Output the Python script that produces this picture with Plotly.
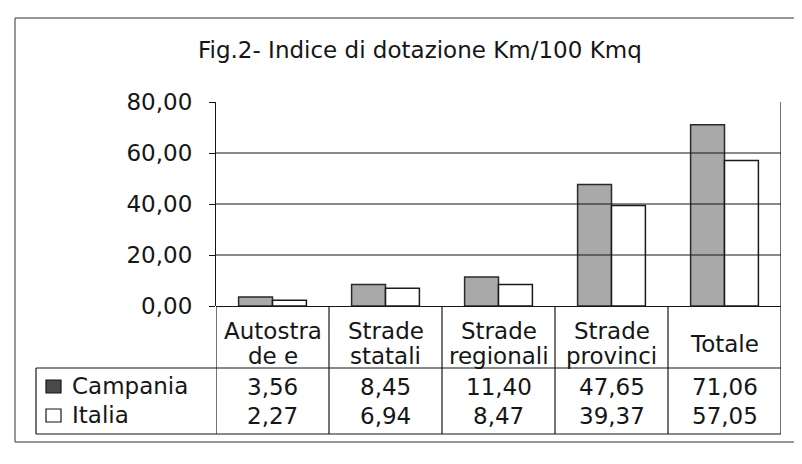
import plotly.graph_objects as go

categories = ["Autostrade e", "Strade statali", "Strade regionali", "Strade provinci", "Totale"]
header_lines = [["Autostra", "de e"], ["Strade", "statali"], ["Strade", "regionali"],
                ["Strade", "provinci"], ["Totale"]]
campania = [3.56, 8.45, 11.40, 47.65, 71.06]
italia = [2.27, 6.94, 8.47, 39.37, 57.05]
series_names = ["Campania", "Italia"]
y_ticks = [0, 20, 40, 60, 80]
title_text = "Fig.2- Indice di dotazione Km/100 Kmq"

FONT = "DejaVu Sans, Liberation Sans, Arial, sans-serif"
FS = 23
INK = "#161616"
OFF = 8  # page body margin
W, H = 802 - OFF, 464 - OFF
PL, PR, PT, PB = 216, 781, 102, 306  # plot area in reference pixels
L, R, T, B = PL - OFF, W - (PR - OFF), PT - OFF, H - (PB - OFF)


def px_x(p):
    return (p - OFF - L) / (W - L - R)


def px_y(p):
    return (H - B - (p - OFF)) / (H - T - B)


fig = go.Figure()
fig.add_trace(go.Bar(x=categories, y=campania, name=series_names[0],
                     marker=dict(color="#a9a9a9", line=dict(color="#2a2a2a", width=1.5))))
fig.add_trace(go.Bar(x=categories, y=italia, name=series_names[1],
                     marker=dict(color="white", line=dict(color="#1a1a1a", width=1.5))))

shapes = []
annotations = []
line_style = dict(color=INK, width=1.2)

# outer chart border
shapes.append(dict(type="rect", xref="paper", yref="paper",
                   x0=px_x(15), x1=px_x(797), y0=px_y(442), y1=px_y(18),
                   line=dict(color="#333", width=1)))
# gridlines (Excel style, none at top)
for v in y_ticks[1:-1]:
    shapes.append(dict(type="line", xref="paper", yref="y", x0=0, x1=1, y0=v, y1=v,
                       line=line_style))

# data table
y_row = px_y(368)
y_bot = px_y(434)
n = len(categories)
for k in range(n + 1):
    top = 1 if k == n else 0
    shapes.append(dict(type="line", xref="x", yref="paper", x0=k - 0.5, x1=k - 0.5,
                       y0=y_bot, y1=top, line=line_style))
shapes.append(dict(type="line", xref="paper", yref="paper", x0=px_x(36), x1=1,
                   y0=y_row, y1=y_row, line=line_style))
shapes.append(dict(type="line", xref="paper", yref="paper", x0=px_x(36), x1=1,
                   y0=y_bot, y1=y_bot, line=line_style))
shapes.append(dict(type="line", xref="paper", yref="paper", x0=px_x(36), x1=px_x(36),
                   y0=y_bot, y1=y_row, line=line_style))
# legend keys
shapes.append(dict(type="rect", xref="paper", yref="paper", x0=px_x(46), x1=px_x(61),
                   y0=px_y(393), y1=px_y(380), fillcolor="#4a4a4a", line=dict(color=INK, width=1.2)))
shapes.append(dict(type="rect", xref="paper", yref="paper", x0=px_x(46), x1=px_x(61),
                   y0=px_y(422), y1=px_y(409), fillcolor="white", line=dict(color=INK, width=1.2)))

tfont = dict(family=FONT, size=FS, color=INK)
for i, c in enumerate(categories):
    lines = header_lines[i]
    ys = [344] if len(lines) == 1 else [331, 356]
    for txt, yy in zip(lines, ys):
        annotations.append(dict(x=c, xref="x", y=px_y(yy), yref="paper", text=txt,
                                showarrow=False, font=tfont, yanchor="middle", xanchor="center"))
    annotations.append(dict(x=c, xref="x", y=px_y(387), yref="paper",
                            text=f"{campania[i]:.2f}".replace(".", ","),
                            showarrow=False, font=tfont, yanchor="middle"))
    annotations.append(dict(x=c, xref="x", y=px_y(416), yref="paper",
                            text=f"{italia[i]:.2f}".replace(".", ","),
                            showarrow=False, font=tfont, yanchor="middle"))
annotations.append(dict(x=px_x(70), xref="paper", y=px_y(386), yref="paper", text=series_names[0],
                        showarrow=False, xanchor="left", yanchor="middle", font=tfont))
annotations.append(dict(x=px_x(70), xref="paper", y=px_y(415), yref="paper", text=series_names[1],
                        showarrow=False, xanchor="left", yanchor="middle", font=tfont))
# title
annotations.append(dict(x=px_x(420), xref="paper", y=px_y(50), yref="paper", text=title_text,
                        showarrow=False, xanchor="center", yanchor="middle",
                        font=dict(family=FONT, size=FS, color=INK)))

fig.update_layout(
    width=W, height=H,
    margin=dict(l=L, r=R, t=T, b=B, pad=0),
    paper_bgcolor="white", plot_bgcolor="white",
    separators=",.",
    barmode="group", bargap=0.40, bargroupgap=0,
    showlegend=False,
    shapes=shapes, annotations=annotations,
    font=dict(family=FONT, size=FS, color=INK),
)
fig.update_xaxes(showticklabels=False, showline=False, showgrid=False, ticks="",
                 range=[-0.5, len(categories) - 0.5])
fig.update_yaxes(range=[0, 80], tickvals=y_ticks, tickformat=".2f",
                 showgrid=False,
                 showline=True, linecolor=INK, linewidth=1.2,
                 ticks="outside", ticklen=6, tickcolor=INK, tickwidth=1.2,
                 zeroline=True, zerolinecolor=INK, zerolinewidth=1.2,
                 tickfont=dict(family=FONT, size=FS, color=INK), ticklabelstandoff=12)

fig.write_html("out.html")
